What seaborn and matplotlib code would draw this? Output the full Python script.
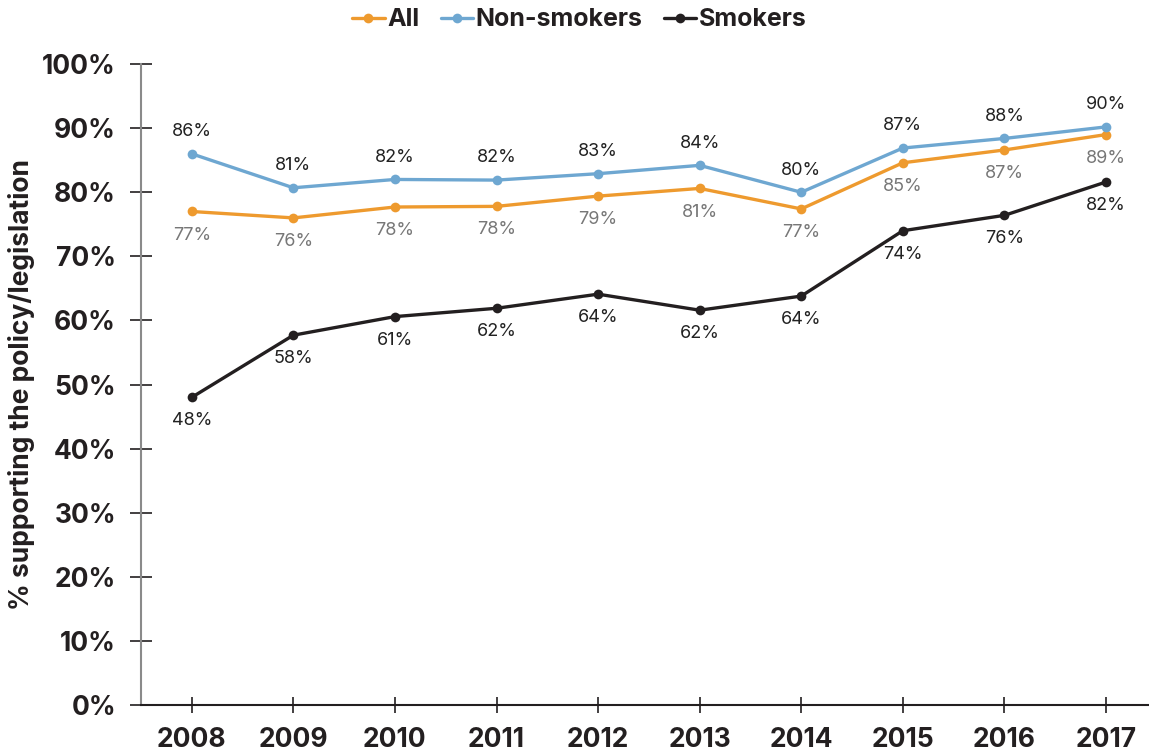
import matplotlib
matplotlib.use("Agg")
import matplotlib.pyplot as plt
import seaborn as sns
import pandas as pd
import numpy as np

years = ["2008", "2009", "2010", "2011", "2012", "2013", "2014", "2015", "2016", "2017"]
all_vals = [77.0, 76.0, 77.7, 77.8, 79.4, 80.6, 77.4, 84.6, 86.6, 89.0]
non_smokers = [86.0, 80.7, 82.0, 81.9, 82.9, 84.2, 80.0, 86.9, 88.4, 90.2]
smokers = [48.0, 57.7, 60.6, 61.9, 64.1, 61.6, 63.8, 74.0, 76.4, 81.6]
y_ticks = [0, 10, 20, 30, 40, 50, 60, 70, 80, 90, 100]

sns.set_theme(style="white")
plt.rcParams['font.family'] = ['Inter', 'DejaVu Sans']

fig = plt.figure(figsize=(11.49, 7.54), dpi=100)
ax = fig.add_axes([0.1227, 0.065, 0.877, 0.85])

x = np.arange(len(years))
series = [
    ("All", all_vals, "#EE9A2E", "#777777", -17),
    ("Non-smokers", non_smokers, "#6EA7D1", "#222222", 16),
    ("Smokers", smokers, "#231F20", "#222222", -17),
]
for name, vals, col, lab_col, off in series:
    df = pd.DataFrame({"x": x, "y": vals})
    sns.lineplot(data=df, x="x", y="y", ax=ax, color=col, lw=2.4, marker="o",
                 markersize=7, markeredgewidth=0, label=name)
    for xi, v in zip(x, vals):
        ax.annotate(f"{int(v + 0.5)}%", (xi, v), xytext=(0, off), textcoords="offset points",
                    ha="center", va="center", fontsize=13, color=lab_col)

ax.set_xlim(-0.5, 9.42)
ax.set_ylim(0, 100)
ax.set_xticks(x)
ax.set_xticklabels(years, fontsize=19, fontweight="bold", color="#231F20")
ax.set_yticks(y_ticks)
ax.set_yticklabels([f"{t}%" for t in y_ticks], fontsize=19, fontweight="bold", color="#231F20")
ax.set_xlabel("")
ax.set_ylabel("% supporting the policy/legislation", fontsize=19, fontweight="bold",
              color="#231F20", labelpad=5)
ax.tick_params(axis="y", left=True, direction="inout", length=16, width=1.2, color="#231F20", pad=10)
ax.tick_params(axis="x", bottom=True, direction="inout", length=12, width=1.2, color="#231F20", pad=10)
for s in ["top", "right"]:
    ax.spines[s].set_visible(False)
ax.spines["left"].set_color("#8A8A8A")
ax.spines["left"].set_linewidth(1.5)
ax.spines["bottom"].set_color("#231F20")
ax.spines["bottom"].set_linewidth(1.5)
ax.grid(False)

leg = ax.legend(loc="upper center", bbox_to_anchor=(0.435, 1.122), ncol=3, frameon=False,
                handlelength=1.3, handletextpad=0.1, columnspacing=0.85,
                prop={"size": 18, "weight": "bold"})
for t in leg.get_texts():
    t.set_color("#231F20")

fig.savefig("out.png", dpi=100)
